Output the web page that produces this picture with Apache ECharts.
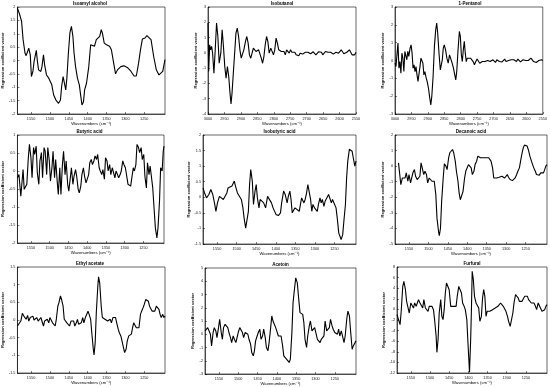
<!DOCTYPE html>
<html>
<head>
<meta charset="utf-8">
<script src="https://cdn.jsdelivr.net/npm/echarts@6/dist/echarts.min.js"></script>
<style>
  html, body { margin: 0; padding: 0; background: #fff; }
  #chart { width: 550px; height: 387px; }
</style>
</head>
<body>
<div id="chart"></div>
<script>
// wavenumber ticks
const fingerprintTicks = [1550, 1500, 1450, 1400, 1350, 1300, 1250];
const stretchTicks = [3000, 2950, 2900, 2850, 2800, 2750, 2700, 2650, 2600, 2550];

// [wavenumber, regression coefficient]
const isoamylAlcohol = [[1586,1.96],[1580,1.71],[1575,1.46],[1571,0.78],[1566,0.28],[1563,0.18],[1559,0.25],[1556,0.46],[1552,0.21],[1549,-0.6],[1545,-0.41],[1542,-0.04],[1536,0.38],[1533,-0.04],[1530,-0.35],[1524,-0.41],[1521,-0.23],[1517,0.21],[1514,-0.16],[1509,-0.54],[1503,-0.66],[1499,-0.73],[1495,-0.91],[1490,-1.29],[1484,-1.48],[1477,-1.6],[1472,-1.48],[1469,-0.98],[1465,-0.6],[1462,-0.6],[1458,-1.1],[1455,-0.66],[1451,0.28],[1447,1.03],[1443,1.28],[1439,0.9],[1436,0.28],[1432,-0.23],[1427,-0.66],[1422,-0.91],[1418,-1.35],[1415,-1.66],[1411,-1.54],[1408,-1.1],[1403,-0.85],[1397,-0.23],[1392,0.59],[1387,0.65],[1382,0.53],[1377,0.78],[1373,0.71],[1368,0.9],[1364,1.15],[1361,1.03],[1356,0.65],[1350,0.59],[1345,0.53],[1342,0.53],[1337,0.4],[1331,-0.1],[1326,-0.5],[1321,-0.35],[1312,-0.23],[1304,-0.2],[1295,-0.26],[1286,-0.39],[1277,-0.58],[1271,-0.58],[1265,-0.1],[1260,0.4],[1255,0.8],[1248,0.84],[1243,0.93],[1238,0.96],[1232,0.78],[1225,0.15],[1218,-0.35],[1211,-0.54],[1206,-0.54],[1201,-0.41],[1195,0.03]];

const isobutanol = [[3000,1.95],[2998,-1.22],[2995,0.53],[2992,0.2],[2989,0.42],[2986,-0.02],[2982,-1.33],[2978,0.2],[2974,1.95],[2970,1.07],[2966,-0.68],[2961,-0.02],[2957,1.51],[2953,0.42],[2949,-0.9],[2945,-1.66],[2941,-0.9],[2937,-1.55],[2933,-2.65],[2930,-3.35],[2927,-2.65],[2923,-1.33],[2919,-0.02],[2915,1.29],[2911,1.62],[2907,1.07],[2903,0.2],[2899,-0.35],[2895,-0.24],[2891,0.2],[2886,0.75],[2882,1.07],[2878,0.64],[2874,-0.13],[2870,-0.35],[2866,-0.02],[2862,0.31],[2858,0.2],[2854,0.09],[2850,0.2],[2846,0.2],[2842,0.09],[2838,-0.35],[2834,-0.68],[2830,-0.24],[2826,0.53],[2822,1.07],[2818,0.75],[2814,-0.02],[2809,0.31],[2805,0.42],[2801,-0.13],[2797,0.2],[2793,0.96],[2789,0.64],[2785,0.2],[2781,0.31],[2777,0.09],[2773,-0.02],[2769,0.09],[2765,-0.13],[2761,0.2],[2757,0.09],[2753,-0.02],[2749,0.2],[2745,0.04],[2741,-0.06],[2736,0.04],[2732,-0.13],[2728,-0.02],[2724,-0.19],[2720,-0.02],[2716,0.04],[2712,-0.08],[2708,-0.02],[2704,0.04],[2700,-0.06],[2696,0.04],[2692,0.09],[2688,-0.06],[2684,-0.02],[2680,0.07],[2676,-0.02],[2672,-0.13],[2668,-0.02],[2664,0.07],[2659,-0.06],[2655,0.04],[2651,-0.13],[2647,-0.02],[2643,0.09],[2639,-0.02],[2635,0.04],[2631,-0.06],[2627,0.04],[2623,-0.02],[2619,-0.08],[2615,-0.02],[2611,0.04],[2607,-0.06],[2603,-0.02],[2599,0.04],[2595,0.2],[2591,0.09],[2587,-0.06],[2582,-0.02],[2578,0.04],[2574,-0.02],[2570,0.2],[2566,0.09],[2562,-0.13],[2558,-0.02],[2554,-0.13],[2550,0.04]];

const pentanol = [[3000,-0.15],[2997,-0.34],[2994,0.32],[2991,0.98],[2988,-0.43],[2985,-0.06],[2982,-0.71],[2979,0.41],[2976,0.13],[2973,-0.62],[2970,0.51],[2967,0.6],[2964,0.04],[2961,0.51],[2958,0.23],[2954,0.69],[2951,0.88],[2948,0.41],[2945,-0.43],[2942,-0.24],[2939,-0.62],[2936,-0.34],[2933,-0.81],[2930,-1.18],[2927,-1.09],[2924,-0.34],[2921,0.13],[2918,0.23],[2915,-0.15],[2912,-0.81],[2909,-0.62],[2906,-0.9],[2902,-1.18],[2898,-1.56],[2894,-2.12],[2891,-2.49],[2888,-2.02],[2884,-0.9],[2880,0.79],[2876,1.73],[2873,2.1],[2870,1.54],[2866,0.41],[2862,-0.53],[2859,-0.62],[2856,0.04],[2853,0.69],[2850,0.88],[2846,0.6],[2842,0.13],[2838,-0.15],[2834,0.32],[2830,0.23],[2826,-0.15],[2822,-0.43],[2818,-0.81],[2815,-1.09],[2812,-0.62],[2808,0.6],[2804,1.63],[2801,1.35],[2798,0.32],[2795,-0.06],[2792,0.6],[2789,1.07],[2786,0.41],[2783,-0.06],[2780,0.13],[2777,0.23],[2774,0.04],[2770,0.13],[2766,0.04],[2762,-0.06],[2758,-0.24],[2754,-0.06],[2750,0.08],[2746,0.04],[2742,-0.15],[2738,-0.19],[2734,-0.06],[2730,0.0],[2726,-0.06],[2722,-0.15],[2718,0.0],[2714,0.08],[2710,-0.06],[2706,-0.11],[2702,0.04],[2698,-0.06],[2694,-0.11],[2690,0.04],[2686,0.08],[2682,-0.06],[2678,0.0],[2674,-0.08],[2670,0.0],[2666,0.08],[2662,-0.06],[2658,-0.11],[2654,0.0],[2650,-0.06],[2646,0.04],[2642,-0.04],[2638,0.04],[2634,-0.06],[2630,-0.06],[2626,0.08],[2622,0.04],[2618,-0.08],[2614,-0.02],[2610,0.04],[2606,0.08],[2602,0.0],[2598,-0.08],[2594,0.0],[2590,0.08],[2586,0.13],[2582,0.04],[2578,-0.06],[2574,0.04],[2570,-0.11],[2566,-0.06],[2562,0.0],[2558,-0.06],[2554,0.04],[2550,0.0]];

const butyricAcid = [[1586,-0.19],[1582,-0.1],[1577,-0.7],[1575,-0.75],[1571,0.04],[1568,-0.51],[1564,-0.47],[1561,-0.37],[1557,0.37],[1554,0.74],[1550,0.37],[1547,-0.19],[1543,0.65],[1540,0.46],[1536,0.69],[1533,-0.05],[1529,-0.37],[1526,0.28],[1522,0.51],[1519,-0.19],[1515,0.65],[1512,0.55],[1508,-0.1],[1505,0.65],[1501,0.28],[1498,-0.28],[1494,0.09],[1491,0.55],[1487,-0.19],[1484,0.32],[1480,-0.28],[1477,-0.65],[1473,0.09],[1470,-0.65],[1466,0.18],[1463,0.55],[1459,-0.1],[1456,0.28],[1452,-0.37],[1449,-0.56],[1445,-0.19],[1442,0.09],[1438,-0.37],[1435,-0.14],[1431,0.04],[1428,-0.14],[1424,-0.51],[1421,-0.61],[1417,-0.42],[1414,-0.1],[1410,0.09],[1407,-0.14],[1403,-0.33],[1400,-0.37],[1396,-0.1],[1393,0.23],[1389,0.32],[1386,0.18],[1382,0.28],[1379,0.42],[1375,0.32],[1372,0.46],[1368,0.09],[1365,0.0],[1361,-0.1],[1358,0.04],[1354,-0.23],[1351,0.37],[1347,0.28],[1344,0.0],[1340,0.18],[1337,-0.1],[1333,0.09],[1330,0.04],[1326,-0.19],[1323,0.0],[1319,-0.1],[1316,-0.19],[1312,-0.1],[1309,0.0],[1305,0.28],[1302,0.18],[1298,0.09],[1295,0.04],[1291,-0.37],[1288,-0.33],[1284,-0.42],[1281,-0.37],[1277,0.09],[1274,0.0],[1270,0.18],[1267,0.74],[1263,0.65],[1260,0.51],[1256,0.65],[1253,0.32],[1249,0.46],[1246,-0.14],[1242,-0.47],[1239,0.23],[1235,-0.1],[1232,0.14],[1228,0.09],[1225,-0.47],[1221,-1.12],[1218,-1.58],[1214,-1.86],[1211,-1.58],[1207,-0.84],[1204,0.09],[1200,0.0],[1197,0.55],[1195,0.69]];

const isobutyricAcid = [[1586,0.30],[1582,0.14],[1577,-0.02],[1571,0.09],[1566,0.25],[1561,0.09],[1556,-0.23],[1553,-0.45],[1549,-0.18],[1544,0.03],[1539,0.03],[1534,-0.07],[1530,-0.07],[1525,0.14],[1522,0.30],[1517,0.25],[1512,0.36],[1506,0.52],[1503,0.36],[1498,0.14],[1493,0.09],[1488,-0.07],[1484,-0.34],[1481,-0.66],[1477,-0.99],[1474,-0.96],[1470,-0.45],[1467,0.41],[1464,0.89],[1460,0.52],[1457,-0.23],[1453,0.20],[1450,0.41],[1447,-0.02],[1443,-0.34],[1440,-0.07],[1436,-0.02],[1431,-0.18],[1426,-0.34],[1421,0.03],[1416,-0.02],[1411,-0.18],[1407,-0.34],[1402,-0.40],[1399,-0.56],[1393,-0.58],[1388,-0.50],[1385,-0.18],[1380,0.20],[1376,0.09],[1371,-0.18],[1368,0.03],[1364,0.20],[1361,-0.07],[1358,-0.50],[1354,-0.56],[1351,-0.34],[1346,-0.40],[1340,-0.45],[1337,-0.23],[1334,-0.02],[1328,-0.18],[1325,-0.07],[1322,0.09],[1318,0.41],[1315,0.20],[1311,-0.07],[1308,-0.45],[1305,-0.23],[1301,-0.34],[1298,-0.29],[1294,-0.45],[1291,-0.23],[1287,-0.02],[1284,-0.18],[1281,-0.07],[1277,-0.29],[1274,-0.13],[1269,-0.07],[1265,0.09],[1262,0.03],[1258,-0.18],[1255,-0.07],[1250,-0.07],[1246,-0.34],[1243,-0.66],[1239,-1.15],[1236,-1.25],[1233,-1.36],[1229,-1.2],[1226,-0.77],[1222,-0.23],[1219,0.63],[1216,1.16],[1212,1.54],[1209,1.59],[1205,1.48],[1202,1.27],[1198,1.0],[1195,1.16]];

const decanoicAcid = [[1577,0.21],[1574,0.15],[1571,-1.19],[1567,-0.76],[1564,-0.86],[1560,-0.76],[1557,-0.43],[1553,-0.97],[1550,-0.54],[1546,-1.08],[1543,-0.76],[1540,-0.43],[1536,-0.22],[1533,-0.65],[1529,-0.86],[1526,-0.76],[1522,-0.65],[1519,0.21],[1516,0.10],[1512,-0.54],[1509,-0.33],[1505,-0.54],[1502,-1.08],[1498,-0.76],[1495,-0.65],[1491,-0.97],[1488,-0.93],[1485,-0.97],[1481,-1.83],[1478,-3.34],[1474,-4.2],[1472,-4.46],[1469,-3.99],[1466,-2.26],[1462,-0.76],[1459,0.15],[1455,0.0],[1452,-0.22],[1448,0.54],[1445,0.86],[1442,0.75],[1438,1.07],[1435,0.86],[1431,0.32],[1428,-0.33],[1424,-0.97],[1421,-1.73],[1418,-2.16],[1414,-2.16],[1411,-1.62],[1407,-0.76],[1404,-0.33],[1400,-0.22],[1397,0.10],[1393,0.21],[1390,-0.11],[1387,-0.54],[1383,-0.33],[1380,0.10],[1376,0.32],[1373,0.64],[1369,0.71],[1366,0.54],[1363,0.43],[1359,0.54],[1356,0.64],[1352,0.54],[1349,0.58],[1345,0.54],[1342,0.43],[1339,0.32],[1335,-0.11],[1332,-0.76],[1328,-0.86],[1325,-0.76],[1321,-0.65],[1318,-0.71],[1314,-0.76],[1311,-0.65],[1308,-0.71],[1304,-0.76],[1301,-0.65],[1297,-0.54],[1294,-0.71],[1290,-0.86],[1287,-0.93],[1284,-0.93],[1280,-0.86],[1277,-0.76],[1273,-0.54],[1270,-0.33],[1266,-0.11],[1263,0.32],[1259,0.86],[1256,1.18],[1253,1.35],[1249,1.44],[1246,1.29],[1242,0.97],[1239,0.64],[1235,0.32],[1232,0.10],[1229,-0.11],[1225,-0.33],[1222,-0.54],[1218,-0.65],[1215,-0.58],[1211,-0.43],[1208,-0.54],[1204,-0.43],[1201,-0.22],[1198,0.0],[1195,0.10]];

const ethylAcetate = [[1586,-0.17],[1582,-0.12],[1577,-0.03],[1573,0.19],[1569,0.11],[1566,0.16],[1563,0.02],[1559,0.13],[1556,-0.03],[1552,0.07],[1549,0.02],[1545,0.11],[1542,0.0],[1538,0.04],[1535,0.07],[1531,-0.03],[1528,0.02],[1524,0.07],[1521,0.11],[1517,-0.17],[1514,-0.03],[1510,-0.03],[1507,0.02],[1503,-0.08],[1500,0.07],[1496,0.02],[1493,-0.08],[1490,-0.03],[1486,-0.17],[1483,0.02],[1479,0.39],[1476,0.49],[1472,0.68],[1469,0.58],[1465,0.39],[1462,0.02],[1458,-0.03],[1455,-0.08],[1451,-0.03],[1448,-0.17],[1444,-0.03],[1441,-0.08],[1437,-0.03],[1434,-0.17],[1430,-0.08],[1427,0.02],[1424,-0.12],[1420,-0.17],[1417,-0.08],[1413,0.07],[1410,-0.08],[1406,0.07],[1403,0.11],[1399,0.25],[1396,0.16],[1392,0.02],[1389,-0.36],[1385,-0.82],[1383,-0.99],[1380,-0.64],[1377,0.21],[1373,0.96],[1371,1.22],[1368,1.05],[1364,0.39],[1361,0.07],[1357,0.07],[1354,0.02],[1351,0.02],[1347,-0.03],[1344,-0.03],[1340,0.02],[1337,-0.08],[1333,0.07],[1330,0.11],[1326,0.07],[1323,-0.08],[1319,-0.26],[1316,-0.36],[1312,-0.45],[1309,-0.59],[1305,-0.78],[1302,-0.92],[1298,-0.82],[1295,-0.59],[1291,-0.45],[1288,-0.5],[1284,-0.4],[1281,-0.22],[1278,-0.08],[1274,-0.12],[1271,-0.22],[1267,-0.26],[1264,-0.22],[1260,0.16],[1257,0.25],[1253,0.35],[1250,0.44],[1246,0.58],[1243,0.63],[1239,0.53],[1236,0.39],[1232,0.35],[1229,0.25],[1225,0.21],[1222,0.25],[1218,0.39],[1215,0.37],[1211,0.3],[1208,0.16],[1205,0.07],[1201,0.16],[1198,0.07],[1195,0.11]];

const acetoin = [[1586,0.25],[1583,0.13],[1579,0.5],[1576,0.63],[1572,0.0],[1569,-0.88],[1565,0.13],[1562,0.5],[1558,0.25],[1555,-0.25],[1551,0.5],[1548,1.13],[1544,0.13],[1541,-0.38],[1538,0.5],[1534,0.75],[1531,0.88],[1527,0.5],[1524,0.13],[1520,-0.25],[1517,-0.63],[1513,-0.13],[1510,-0.38],[1506,-0.63],[1503,-0.25],[1500,0.13],[1496,0.5],[1493,0.63],[1489,0.13],[1486,-0.25],[1482,0.13],[1479,0.25],[1475,0.0],[1472,-0.38],[1468,-0.75],[1465,-1.38],[1461,-1.63],[1458,-1.25],[1455,-0.5],[1451,-0.13],[1448,0.13],[1444,0.38],[1441,-0.38],[1437,-0.13],[1434,0.38],[1430,-0.25],[1427,-1.0],[1423,-1.25],[1420,-0.63],[1416,0.5],[1413,1.38],[1410,1.0],[1406,0.88],[1403,0.5],[1399,0.38],[1396,-0.13],[1392,-0.25],[1389,-0.13],[1385,-0.88],[1382,-1.63],[1378,-1.75],[1375,-1.88],[1371,-2.0],[1368,-2.13],[1365,-1.88],[1361,0.13],[1358,2.38],[1354,3.5],[1351,4.25],[1347,3.88],[1344,2.88],[1340,1.63],[1337,1.75],[1333,1.5],[1330,0.88],[1327,-0.38],[1323,-1.0],[1320,-0.13],[1316,0.63],[1313,1.0],[1309,0.25],[1306,0.13],[1302,0.5],[1299,0.13],[1295,-0.38],[1292,-0.5],[1288,-0.63],[1285,-0.38],[1282,-0.5],[1278,-0.13],[1275,1.0],[1271,0.25],[1268,0.38],[1264,0.5],[1261,1.13],[1257,0.63],[1254,0.38],[1250,0.13],[1247,0.25],[1243,0.0],[1240,0.38],[1237,-0.13],[1233,0.25],[1230,0.25],[1226,-0.63],[1223,-0.13],[1219,1.13],[1216,1.75],[1212,1.38],[1209,0.25],[1205,-1.13],[1202,-0.88],[1198,-1.0],[1195,-0.5]];

const furfural = [[1586,-1.0],[1582,-1.94],[1578,-2.88],[1575,-0.36],[1571,4.35],[1568,5.3],[1564,3.72],[1561,1.52],[1557,1.84],[1554,-0.68],[1550,1.21],[1547,0.89],[1543,0.26],[1540,1.21],[1536,0.58],[1533,1.21],[1530,1.84],[1526,1.21],[1523,1.52],[1519,0.26],[1516,1.84],[1512,0.26],[1509,-0.05],[1505,-0.36],[1502,0.58],[1498,0.89],[1495,0.58],[1491,-0.05],[1488,-1.94],[1484,-5.08],[1482,-8.1],[1479,-5.72],[1476,-0.68],[1472,1.84],[1469,-1.31],[1466,-1.94],[1463,-0.05],[1460,3.09],[1457,4.98],[1453,5.3],[1450,3.72],[1446,0.58],[1443,0.26],[1439,0.58],[1436,0.58],[1432,0.58],[1429,2.47],[1425,4.35],[1422,4.67],[1418,3.09],[1415,1.21],[1411,0.58],[1408,-0.05],[1404,-1.94],[1401,-6.34],[1397,-11.87],[1394,-5.72],[1392,-0.05],[1390,7.18],[1387,5.61],[1384,2.47],[1380,1.21],[1377,0.89],[1373,0.26],[1370,-2.25],[1366,-1.31],[1363,2.15],[1360,3.72],[1357,2.47],[1354,-1.31],[1351,-0.36],[1347,-0.05],[1344,-0.36],[1340,-0.05],[1337,-0.05],[1333,0.08],[1330,0.26],[1326,0.45],[1323,0.58],[1319,0.89],[1316,1.21],[1312,0.89],[1309,0.58],[1305,0.26],[1302,-0.36],[1298,-1.31],[1295,-2.25],[1291,-3.19],[1288,-2.88],[1284,-0.68],[1281,1.21],[1277,2.78],[1274,2.59],[1270,2.15],[1267,1.52],[1264,1.84],[1260,1.52],[1257,1.96],[1253,2.47],[1250,2.78],[1246,2.47],[1243,1.84],[1239,1.52],[1236,1.21],[1232,0.89],[1229,1.21],[1225,0.58],[1222,-0.05],[1218,1.21],[1215,0.89],[1212,0.26],[1208,-0.36],[1205,-0.68],[1201,-0.05],[1198,0.58],[1195,0.89]];

// panel setup: title, data, x region, y [min, max, step], grid box [left, top, width, height]
const panels = [
  { title: 'Isoamyl alcohol', data: isoamylAlcohol, region: 'fp', y: [-2, 2, 0.5], box: [15, 7, 150, 107] },
  { title: 'Isobutanol', data: isobutanol, region: 'ch', y: [-4, 3, 1], box: [208, 7, 148, 107] },
  { title: '1-Pentanol', data: pentanol, region: 'ch', y: [-3, 3, 1], box: [395, 7, 150, 107] },
  { title: 'Butyric acid', data: butyricAcid, region: 'fp', y: [-2, 1, 0.5], box: [15, 135, 149, 108] },
  { title: 'Isobutyric acid', data: isobutyricAcid, region: 'fp', y: [-1.5, 2, 0.5], box: [203, 135, 153, 109] },
  { title: 'Decanoic acid', data: decanoicAcid, region: 'fp', y: [-5, 2, 1], box: [395, 135, 152, 109] },
  { title: 'Ethyl acetate', data: ethylAcetate, region: 'fp', y: [-1.5, 1.5, 0.5], box: [15, 267, 150, 106] },
  { title: 'Acetoin', data: acetoin, region: 'fp', y: [-3, 5, 1], box: [205, 268, 151, 106] },
  { title: 'Furfural', data: furfural, region: 'fp', y: [-12, 8, 2], box: [397, 267, 150, 106] }
];

const font = 'Liberation Sans, DejaVu Sans, sans-serif';
const tickStyle = { inside: true, length: 2, lineStyle: { color: '#000', width: 0.5 } };
const axisLine = { onZero: false, lineStyle: { color: '#000', width: 0.6 } };

const chart = echarts.init(document.getElementById('chart'), null, { renderer: 'canvas' });

const grid = [], xAxis = [], yAxis = [], series = [], graphic = [];
panels.forEach((p, i) => {
  const [left, top, width, height] = p.box;
  grid.push({ left, top, width, height, show: true, borderColor: '#000', borderWidth: 0.6, backgroundColor: '#fff' });

  const ticks = p.region === 'fp' ? fingerprintTicks : stretchTicks;
  xAxis.push({
    gridIndex: i, type: 'value', inverse: true,
    min: p.region === 'fp' ? 1195 : 2550,
    max: p.region === 'fp' ? 1586 : 3000,
    name: 'Wavenumbers (cm⁻¹)', nameLocation: 'middle', nameGap: 7,
    nameTextStyle: { fontSize: 4.2, fontFamily: font, color: '#000' },
    axisLine, axisTick: { ...tickStyle, customValues: ticks },
    axisLabel: { fontSize: 3.8, fontFamily: font, color: '#222', margin: 2.5, customValues: ticks, formatter: v => String(v) },
    splitLine: { show: false }
  });

  yAxis.push({
    gridIndex: i, type: 'value', min: p.y[0], max: p.y[1], interval: p.y[2],
    name: 'Regression coefficient vector', nameLocation: 'middle', nameGap: 10,
    nameTextStyle: { fontSize: 4, fontFamily: font, color: '#000', fontWeight: 'bold' },
    axisLine, axisTick: tickStyle,
    axisLabel: { fontSize: 3.8, fontFamily: font, color: '#222', margin: 2, formatter: v => String(v) },
    splitLine: { show: false }
  });

  series.push({
    type: 'line', xAxisIndex: i, yAxisIndex: i, data: p.data,
    showSymbol: false, silent: true,
    lineStyle: { color: '#000', width: 1.1 }
  });

  graphic.push({
    type: 'text', x: left + width / 2, y: top - 1,
    style: { text: p.title, fontSize: 4.5, fontWeight: 'bold', fontFamily: font, fill: '#000', align: 'center', verticalAlign: 'bottom' }
  });
});

chart.setOption({ animation: false, grid, xAxis, yAxis, series, graphic });
</script>
</body>
</html>
